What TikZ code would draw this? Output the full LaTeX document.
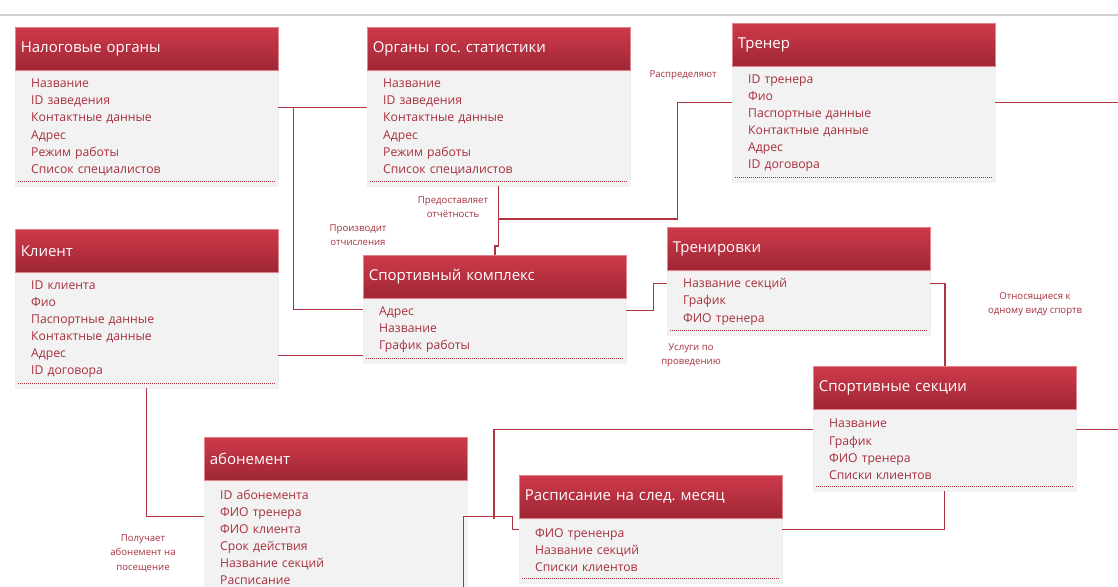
\documentclass[tikz,border=0pt]{standalone}
\usepackage{fontspec}
\setmainfont{Open Sans}
\frenchspacing
\usetikzlibrary{calc,positioning}

\definecolor{hdtop}{RGB}{206,58,74}
\definecolor{hdbot}{RGB}{158,38,53}
\definecolor{hdline}{RGB}{228,130,142}
\definecolor{bodyfill}{RGB}{242,242,242}
\definecolor{itemred}{RGB}{168,48,62}
\definecolor{linkred}{RGB}{178,50,66}

\tikzset{
  entity/.style={anchor=north west, minimum width=263pt, text width=252pt,
    inner xsep=5.5pt, minimum height=43pt, top color=hdtop, bottom color=hdbot,
    draw=hdline, line width=.6pt, text=white,
    font=\fontsize{15}{17}\selectfont, align=left},
  fields/.style={anchor=north west, minimum width=263pt, text width=231pt,
    inner xsep=16pt, inner ysep=0pt, fill=bodyfill, draw=black!6, text=itemred,
    font=\fontsize{12.2}{17.1}\selectfont, align=left,
    execute at end node={\par\vspace*{2pt}}},
  dots/.style={itemred, line width=.6pt, dash pattern=on 1.2pt off .8pt},
  link/.style={linkred, line width=1.5pt},
  rel/.style={text=itemred, font=\fontsize{9.6}{14.5}\selectfont, align=center}
}

\begin{document}
\begin{tikzpicture}[x=1pt,y=-1pt]
  \useasboundingbox (0,0) rectangle (1118,586);
  \clip (0,0) rectangle (1118,586);
  \fill[white] (0,0) rectangle (1118,586);
  \draw[black!18, line width=1.2pt] (0,15) -- (1118,15);

  % entities
  \node[entity] (nalog) at (15,27) {Налоговые органы};
  \node[fields, minimum height=115] (nalogb) at (nalog.south west)
    {Название\\ID заведения\\Контактные данные\\Адрес\\Режим работы\\Список специалистов};

  \node[entity] (stat) at (367,27) {Органы гос. статистики};
  \node[fields, minimum height=115] (statb) at (stat.south west)
    {Название\\ID заведения\\Контактные данные\\Адрес\\Режим работы\\Список специалистов};

  \node[entity] (trener) at (732,23) {Тренер};
  \node[fields, minimum height=115] (trenerb) at (trener.south west)
    {ID тренера\\Фио\\Паспортные данные\\Контактные данные\\Адрес\\ID договора};

  \node[entity] (klient) at (15,229) {Клиент};
  \node[fields, minimum height=115] (klientb) at (klient.south west)
    {ID клиента\\Фио\\Паспортные данные\\Контактные данные\\Адрес\\ID договора};

  \node[entity] (kompl) at (363,255) {Спортивный комплекс};
  \node[fields, minimum height=64] (komplb) at (kompl.south west)
    {Адрес\\Название\\График работы};

  \node[entity] (trenir) at (667,227) {Тренировки};
  \node[fields, minimum height=64] (trenirb) at (trenir.south west)
    {Название секций\\График\\ФИО тренера};

  \node[entity] (sekc) at (813,366) {Спортивные секции};
  \node[fields, minimum height=81] (sekcb) at (sekc.south west)
    {Название\\График\\ФИО тренера\\Списки клиентов};

  \node[entity] (abon) at (204,437) {абонемент};
  \node[fields, minimum height=115] (abonb) at (abon.south west)
    {ID абонемента\\ФИО тренера\\ФИО клиента\\Срок действия\\Название секций\\Расписание};

  \node[entity] (rasp) at (519,475) {Расписание на след. месяц};
  \node[fields, minimum height=64] (raspb) at (rasp.south west)
    {ФИО трененра\\Название секций\\Списки клиентов};

  \foreach \b in {nalogb,statb,trenerb,klientb,komplb,trenirb,sekcb,abonb,raspb}{
    \draw[dots] ($(\b.south west)+(3,-5)$) -- ($(\b.south east)+(-3,-5)$);
  }

  % links
  \draw[link] ($(nalogb.north east)+(0,37)$) coordinate (n1) -- (n1 -| statb.west);
  \draw[link] ($(n1)+(15,0)$) |- ($(komplb.north west)+(0,11)$);
  \draw[link] (statb.south) -- ++(0,60) -| (kompl.north);
  \draw[link] ($(statb.south)+(0,33)$) -- ++(179,0) |- ($(trenerb.north west)+(0,36)$);
  \draw[link] ($(trenerb.north east)+(0,36)$) -- ++(130,0);
  \draw[link] ($(klientb.north east)+(0,83)$) coordinate (k1) -- (k1 -| komplb.west);
  \draw[link] (klientb.south) |- ($(abonb.north west)+(0,36)$);
  \draw[link] ($(komplb.north east)+(0,12)$) -- ++(27,0) |- ($(trenirb.north west)+(0,13)$);
  \draw[link] ($(trenirb.north east)+(0,13)$) -| (sekc.north);
  \draw[link] ($(sekcb.north east)+(0,20)$) -- ++(50,0);
  \draw[link] ($(sekcb.north west)+(0,20)$) -| ($(rasp.south west)+(-25,0)$);
  \draw[link] ($(abonb.north east)+(-4,36)$) coordinate (a1) -- ++(49,0) |- ($(raspb.north west)+(0,11)$);
  \draw[link] (a1) -- ++(0,80);
  \draw[link] (sekcb.south) |- ($(raspb.north east)+(0,11)$);

  % relation labels
  \node[rel] (lraspr) at (683,75) {Распределяют};
  \node[rel] (lotch) at (453,207) {Предоставляет\\отчётность};
  \node[rel] (lotchisl) at (358,235) {Производит\\отчисления};
  \node[rel] (lsport) at (1035,304) {Относящиеся к\\одному виду спортв};
  \node[rel] (lusl) at (691,355) {Услуги по\\проведению};
  \node[rel] (lpoluch) at (143,553) {Получает\\абонемент на\\посещение};
\end{tikzpicture}
\end{document}
